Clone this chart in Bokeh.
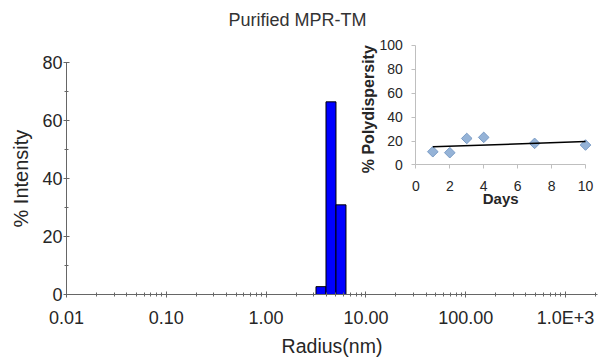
import numpy as np
from bokeh.plotting import figure
from bokeh.models import (Range1d, LinearScale, LinearAxis, FixedTicker,
                          CustomJSTickFormatter, Label, Title)
from bokeh.embed import file_html
from bokeh.resources import INLINE

# ---------------- data ----------------
radius_bin_edges = [3.16, 3.98, 5.01, 6.31]          # nm
intensity_pct = [2.7, 66.4, 30.9]                     # % intensity per bin
x_ticks = [0.01, 0.1, 1, 10, 100, 1000]
x_tick_labels = ["0.01", "0.10", "1.00", "10.00", "100.00", "1.0E+3"]
y_ticks = [0, 20, 40, 60, 80]
y_minor_ticks = [10, 30, 50, 70]

days = [1, 2, 3, 4, 7, 10]
polydispersity = [11.1, 10.3, 22.2, 23.1, 18.1, 16.7]
inset_x_ticks = [0, 2, 4, 6, 8, 10]
inset_y_ticks = [0, 20, 40, 60, 80, 100]

x_minor_ticks = [m * 10.0 ** e for e in range(-2, 4) for m in range(2, 10)]

# ---------------- layout constants (figure pixels) ----------------
W, H = 598, 359
FL, FR, FT, FB = 65, 597, 34, 295      # frame edges
DECADE_PX = 100.0                      # pixels per decade on the radius axis
Y80_PX = 62                            # pixel row of y = 80
INSET_X0, PX_PER_DAY = 415, 17.0       # inset: pixel col of day 0, px per day
INSET_Y0, PX_PER_PCT = 165, 1.2        # inset: pixel row of 0 %, px per %

FONT = "Liberation Sans"
TXT = "#262626"

x_max = 10 ** (np.log10(x_ticks[0]) + (FR - FL) / DECADE_PX)
y_top = y_ticks[-1] * (FB - FT) / (FB - Y80_PX)

p = figure(width=W, height=H, x_axis_type="log",
           x_range=Range1d(x_ticks[0], x_max), y_range=Range1d(0, y_top),
           output_backend="svg", toolbar_location=None,
           min_border_left=FL, min_border_right=W - FR,
           min_border_top=FT, min_border_bottom=H - FB)
p.outline_line_color = None
p.xgrid.visible = False
p.ygrid.visible = False
p.background_fill_color = "white"
p.border_fill_color = "white"

# title
p.title.text = "Purified MPR-TM"
p.title.text_font = FONT
p.title.text_font_size = "18px"
p.title.text_font_style = "normal"
p.title.text_color = "#333333"
p.title.align = "left"
p.title.offset = 162

main_x = p.xaxis[0]
main_y = p.yaxis[0]

main_x.ticker = FixedTicker(ticks=x_ticks, minor_ticks=x_minor_ticks)
main_x.formatter = CustomJSTickFormatter(args=dict(tvals=x_ticks, tlabels=x_tick_labels), code="""
let best = 0, bd = Infinity;
for (let i = 0; i < tvals.length; i++) {
  const d = Math.abs(Math.log10(tick) - Math.log10(tvals[i]));
  if (d < bd) { bd = d; best = i; }
}
return tlabels[best];
""")
main_x.axis_label = "Radius(nm)"
main_x.major_label_standoff = 10
main_x.axis_label_standoff = 4
main_x.axis_label_text_font = FONT
main_x.axis_label_text_font_size = "19.5px"
main_x.axis_label_text_font_style = "normal"
main_x.axis_label_text_color = TXT

main_y.ticker = FixedTicker(ticks=y_ticks, minor_ticks=y_minor_ticks)
main_y.bounds = (y_ticks[0], y_ticks[-1])
main_y.major_label_standoff = 1

for ax in (main_x, main_y):
    ax.axis_line_color = "#666666"
    ax.major_tick_line_color = "#666666"
    ax.minor_tick_line_color = "#666666"
    ax.major_tick_in = 3
    ax.major_tick_out = 3
    ax.minor_tick_in = 2
    ax.minor_tick_out = 2
    ax.major_label_text_font = FONT
    ax.major_label_text_font_size = "18px"
    ax.major_label_text_color = TXT

# y-axis title, placed along the drawn 0-80 axis
p.add_layout(Title(text="% Intensity", align="left", offset=67, standoff=15,
                   text_font=FONT, text_font_size="20px", text_font_style="normal",
                   text_color=TXT), "left")

# histogram bars
p.quad(left=radius_bin_edges[:-1], right=radius_bin_edges[1:],
       top=intensity_pct, bottom=0,
       fill_color="#0000FF", line_color="black", line_width=1)

# ---------------- inset (polydispersity vs days) ----------------
p.extra_x_ranges = {"inset": Range1d(-(INSET_X0 - FL) / PX_PER_DAY,
                                     (FR - INSET_X0) / PX_PER_DAY)}
p.extra_x_scales = {"inset": LinearScale()}
p.extra_y_ranges = {"inset": Range1d(-(FB - INSET_Y0) / PX_PER_PCT,
                                     (INSET_Y0 - FT) / PX_PER_PCT)}

p.scatter(days, polydispersity, marker="square", angle=np.pi / 4, size=7.5,
          fill_color="#95B3D7", line_color="#7A9CC6", line_width=1,
          x_range_name="inset", y_range_name="inset")

coef = np.polyfit(days, polydispersity, 1)
trend_x = [days[0], days[-1]]
p.line(trend_x, list(np.polyval(coef, trend_x)), line_color="black", line_width=1.5,
       x_range_name="inset", y_range_name="inset")

inset_x_axis = LinearAxis(x_range_name="inset", y_range_name="inset",
                          fixed_location=0, bounds=(inset_x_ticks[0], inset_x_ticks[-1]),
                          ticker=FixedTicker(ticks=inset_x_ticks))
inset_y_axis = LinearAxis(x_range_name="inset", y_range_name="inset",
                          fixed_location=0, bounds=(inset_y_ticks[0], inset_y_ticks[-1]),
                          ticker=FixedTicker(ticks=inset_y_ticks))
for ax in (inset_x_axis, inset_y_axis):
    ax.axis_line_color = "#BFBFBF"
    ax.major_tick_line_color = "#BFBFBF"
    ax.minor_tick_line_color = None
    ax.major_tick_in = 0
    ax.major_tick_out = 4
    ax.major_label_text_font = FONT
    ax.major_label_text_font_size = "14px"
    ax.major_label_text_color = TXT
inset_x_axis.major_label_standoff = 12
inset_y_axis.major_label_standoff = 9
p.add_layout(inset_x_axis, "below")
p.add_layout(inset_y_axis, "left")

p.add_layout(Label(x=5, y=-34 / PX_PER_PCT, x_range_name="inset", y_range_name="inset",
                   text="Days", text_align="center", text_baseline="middle",
                   text_font=FONT, text_font_size="15px", text_font_style="bold",
                   text_color=TXT))
p.add_layout(Label(x=-47 / PX_PER_DAY, y=56 / PX_PER_PCT, x_range_name="inset",
                   y_range_name="inset", angle=np.pi / 2,
                   text="% Polydispersity", text_align="center", text_baseline="middle",
                   text_font=FONT, text_font_size="16px", text_font_style="bold",
                   text_color=TXT))

open("out.html", "w").write(file_html(p, INLINE))
